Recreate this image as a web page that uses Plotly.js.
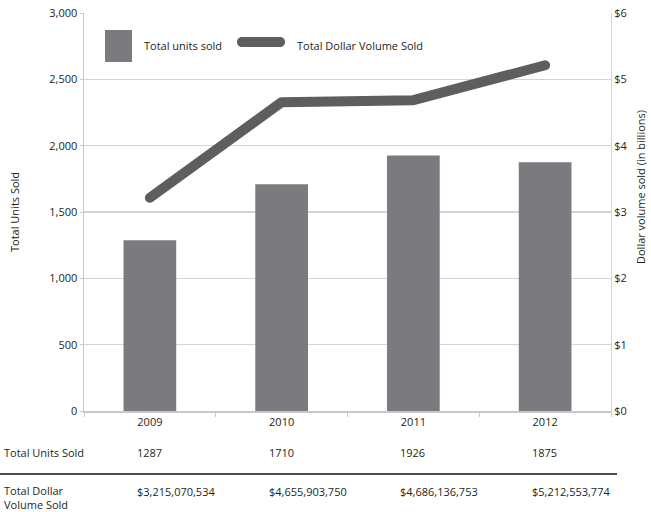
<!DOCTYPE html>
<html>
<head>
<meta charset="utf-8">
<script src="https://cdn.plot.ly/plotly-3.0.1.min.js"></script>
<style>html,body{margin:0;padding:0;background:#fff;}#chart{width:651px;height:512px;}</style>
</head>
<body>
<div id="chart"></div>
<script>
var years = ['2009', '2010', '2011', '2012'];
var unitsSold = [1287, 1710, 1926, 1875];
var dollarVolume = [3215070534, 4655903750, 4686136753, 5212553774];
var dollarLabels = ['$3,215,070,534', '$4,655,903,750', '$4,686,136,753', '$5,212,553,774'];
var leftTicks = [0, 500, 1000, 1500, 2000, 2500, 3000];
var rightTicks = [0, 1, 2, 3, 4, 5, 6];
var rightTickText = ['$0', '$1', '$2', '$3', '$4', '$5', '$6'];

var dollarBillions = dollarVolume.map(function (v) { return v / 1e9; });

var FONT = 'Open Sans, Noto Sans, sans-serif';
var TXT = '#231f20';
var BAR = '#7b7b7f';
var LINE = '#5e5e60';

var W = 651, H = 512, L = 84, R = 40, T = 13, B = 101;
var pw = W - L - R, ph = H - T - B;
function px(x) { return (x - L) / pw; }
function py(y) { return (H - B - y) / ph; }

var traces = [
  { type: 'bar', x: years, y: unitsSold, marker: { color: BAR, line: { width: 0 } }, hoverinfo: 'skip' },
  { type: 'scatter', mode: 'lines', x: years, y: dollarBillions, yaxis: 'y2',
    line: { color: LINE, width: 10 }, hoverinfo: 'skip' }
];

var annotations = [];
function ann(o) {
  annotations.push(Object.assign({ showarrow: false, font: { family: FONT, size: 11, color: TXT } }, o));
}
ann({ text: 'Total Units Sold', xref: 'paper', yref: 'paper', x: px(14), y: py(212), textangle: -90, xanchor: 'center', yanchor: 'middle' });
ann({ text: 'Dollar volume sold (in billions)', xref: 'paper', yref: 'paper', x: px(640), y: py(187), textangle: -90, xanchor: 'center', yanchor: 'middle' });
ann({ text: 'Total units sold', xref: 'paper', yref: 'paper', x: px(142), y: py(46), xanchor: 'left', yanchor: 'middle' });
ann({ text: 'Total Dollar Volume Sold', xref: 'paper', yref: 'paper', x: px(295), y: py(46), xanchor: 'left', yanchor: 'middle' });
ann({ text: 'Total Units Sold', xref: 'paper', yref: 'paper', x: px(2), y: py(452), xanchor: 'left', yanchor: 'middle' });
ann({ text: 'Total Dollar<br>Volume Sold', xref: 'paper', yref: 'paper', x: px(2), y: py(497), xanchor: 'left', yanchor: 'middle', align: 'left' });
for (var i = 0; i < years.length; i++) {
  ann({ text: String(unitsSold[i]), xref: 'x', yref: 'paper', x: i, xshift: -15, y: py(452), xanchor: 'left', yanchor: 'middle' });
  ann({ text: dollarLabels[i], xref: 'x', yref: 'paper', x: i, xshift: -15, y: py(491), xanchor: 'left', yanchor: 'middle' });
}

// rounded legend line symbol (paper coords)
var lx0 = px(242), lx1 = px(280), ly0 = py(37), ly1 = py(47), r = 5 / pw;
var roundPath = 'M' + lx0 + ',' + ly0 + ' L' + lx1 + ',' + ly0 +
  ' C' + (lx1 + r * 1.33) + ',' + ly0 + ' ' + (lx1 + r * 1.33) + ',' + ly1 + ' ' + lx1 + ',' + ly1 +
  ' L' + lx0 + ',' + ly1 +
  ' C' + (lx0 - r * 1.33) + ',' + ly1 + ' ' + (lx0 - r * 1.33) + ',' + ly0 + ' ' + lx0 + ',' + ly0 + ' Z';

var shapes = [
  { type: 'rect', xref: 'paper', yref: 'paper', x0: px(105), x1: px(132), y0: py(62), y1: py(30), fillcolor: BAR, line: { width: 0 } },
  { type: 'path', xref: 'paper', yref: 'paper', path: roundPath, fillcolor: LINE, line: { width: 0 } },
  { type: 'line', xref: 'paper', yref: 'paper', x0: px(0), x1: px(617), y0: py(474), y1: py(474), line: { color: '#111', width: 1.3 } }
];

var layout = {
  width: W, height: H,
  margin: { l: L, r: R, t: T, b: B },
  paper_bgcolor: '#fff', plot_bgcolor: '#fff',
  showlegend: false,
  bargap: 0.6,
  font: { family: FONT, size: 11, color: TXT },
  xaxis: {
    type: 'category', range: [-0.5, 3.5], autorange: false, showgrid: false, showline: true, linecolor: '#c8c8c8', linewidth: 1.5,
    ticks: 'outside', tickson: 'boundaries', ticklen: 4, tickcolor: '#c8c8c8', tickangle: 0,
    tickfont: { family: FONT, size: 11, color: TXT }, fixedrange: true
  },
  yaxis: {
    range: [0, 3000], autorange: false, tickvals: leftTicks, tickformat: ',d', showgrid: true, gridcolor: '#d4d4d4', gridwidth: 1.5,
    showline: true, linecolor: '#c8c8c8', linewidth: 1.5, ticks: 'outside', ticklen: 3, tickcolor: '#c8c8c8',
    zeroline: false, tickfont: { family: FONT, size: 11, color: TXT }, fixedrange: true
  },
  yaxis2: {
    range: [0, 6], autorange: false, tickvals: rightTicks, ticktext: rightTickText, overlaying: 'y', side: 'right', showgrid: false,
    showline: true, linecolor: '#d4d4d4', linewidth: 1, ticks: '', zeroline: false,
    tickfont: { family: FONT, size: 11, color: TXT }, fixedrange: true
  },
  annotations: annotations,
  shapes: shapes
};

Plotly.newPlot('chart', traces, layout, { staticPlot: true }).then(function () {
  document.querySelectorAll('.scatterlayer .js-line').forEach(function (p) {
    p.style.strokeLinecap = 'round';
    p.style.strokeLinejoin = 'round';
  });
});
</script>
</body>
</html>
